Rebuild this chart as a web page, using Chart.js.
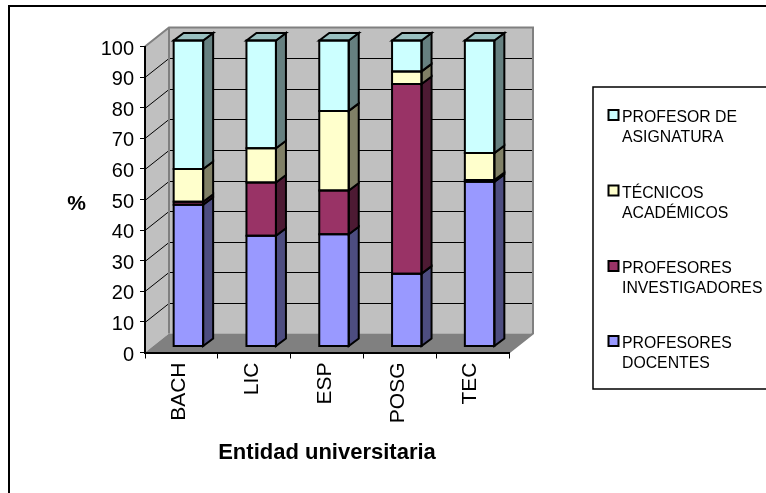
<!DOCTYPE html>
<html>
<head>
<meta charset="utf-8">
<style>
  html, body { margin: 0; padding: 0; background: #fff; }
  canvas { display: block; }
</style>
<script src="https://cdn.jsdelivr.net/npm/chart.js@4"></script>
</head>
<body>
<canvas id="chart" width="766" height="493"></canvas>
<script>
const categories = ['BACH', 'LIC', 'ESP', 'POSG', 'TEC']
const yTicks = [0, 10, 20, 30, 40, 50, 60, 70, 80, 90, 100]

const profesoresDocentes = [46.3, 36.2, 36.7, 23.8, 53.8]
const profesoresInvestigadores = [1, 17.4, 14.3, 62, 0.6]
const tecnicosAcademicos = [10.7, 11.2, 26, 4.1, 8.8]
const profesorAsignatura = [42, 35.2, 23, 10.1, 36.8]

const seriesStyles = [
  { label: 'PROFESORES DOCENTES', lines: ['PROFESORES', 'DOCENTES'], data: profesoresDocentes, color: '#9999FF', side: '#4D4D80' },
  { label: 'PROFESORES INVESTIGADORES', lines: ['PROFESORES', 'INVESTIGADORES'], data: profesoresInvestigadores, color: '#993366', side: '#4D1A33' },
  { label: 'TÉCNICOS ACADÉMICOS', lines: ['TÉCNICOS', 'ACADÉMICOS'], data: tecnicosAcademicos, color: '#FFFFCC', side: '#808066' },
  { label: 'PROFESOR DE ASIGNATURA', lines: ['PROFESOR DE', 'ASIGNATURA'], data: profesorAsignatura, color: '#CCFFFF', side: '#668080' },
]

const FONT = '"Liberation Sans", Arial, sans-serif'
const WALL = { dx: 24, dy: -19 }
const BAR_SHIFT = { x: 7, y: -6 }
const BAR_DEPTH = { dx: 10, dy: -7.5 }

const poly = (ctx, pts, fill, stroke, lw) => {
  ctx.beginPath()
  pts.forEach(([x, y], i) => (i ? ctx.lineTo(x, y) : ctx.moveTo(x, y)))
  ctx.closePath()
  if (fill) {
    ctx.fillStyle = fill
    ctx.fill()
  }
  if (stroke) {
    ctx.strokeStyle = stroke
    ctx.lineWidth = lw
    ctx.stroke()
  }
}

const scene3d = {
  id: 'scene3d',
  beforeDraw(chart) {
    const { ctx, scales } = chart
    const l = scales.x.left
    const r = scales.x.right
    const b = scales.y.bottom
    const t = scales.y.top
    const { dx, dy } = WALL
    ctx.save()
    // outer chart frame, open to the right and below
    ctx.strokeStyle = '#000'
    ctx.lineWidth = 2
    ctx.beginPath()
    ctx.moveTo(9, 493)
    ctx.lineTo(9, 6)
    ctx.lineTo(766, 6)
    ctx.stroke()

    poly(ctx, [[l, b], [l + dx, b + dy], [l + dx, t + dy], [l, t]], '#C0C0C0')
    poly(ctx, [[l + dx, b + dy], [r + dx, b + dy], [r + dx, t + dy], [l + dx, t + dy]], '#C0C0C0')
    poly(ctx, [[l, b], [l + dx, b + dy], [r + dx, b + dy], [r, b]], '#808080')

    ctx.strokeStyle = '#000'
    ctx.lineWidth = 1
    yTicks.slice(1, -1).forEach((v) => {
      const py = Math.round(scales.y.getPixelForValue(v)) + 0.5
      ctx.beginPath()
      ctx.moveTo(l, py)
      ctx.lineTo(l + dx, py + dy)
      ctx.lineTo(r + dx, py + dy)
      ctx.stroke()
    })

    ctx.strokeStyle = '#808080'
    ctx.lineWidth = 2
    ctx.beginPath()
    ctx.moveTo(l, t)
    ctx.lineTo(l + dx, t + dy)
    ctx.lineTo(r + dx, t + dy)
    ctx.lineTo(r + dx, b + dy)
    ctx.lineTo(r, b)
    ctx.moveTo(l + dx, t + dy)
    ctx.lineTo(l + dx, b + dy)
    ctx.stroke()
    ctx.restore()
  },
  beforeDatasetsDraw(chart) {
    chart.ctx.save()
    chart.ctx.translate(BAR_SHIFT.x, BAR_SHIFT.y)
  },
  afterDatasetsDraw(chart) {
    const { ctx } = chart
    const { dx, dy } = BAR_DEPTH
    ctx.lineJoin = 'miter'
    seriesStyles.forEach((s, di) => {
      chart.getDatasetMeta(di).data.forEach((bar) => {
        const x0 = bar.x - bar.width / 2
        const x1 = bar.x + bar.width / 2
        const top = bar.y
        const base = bar.base
        poly(ctx, [[x1, top], [x1 + dx, top + dy], [x1 + dx, base + dy], [x1, base]], s.side, '#000', 2)
        if (di === seriesStyles.length - 1) {
          poly(ctx, [[x0, top], [x0 + dx, top + dy], [x1 + dx, top + dy], [x1, top]], '#99BFBF', '#000', 2)
        }
        poly(ctx, [[x0, top], [x1, top], [x1, base], [x0, base]], null, '#000', 2)
      })
    })
    ctx.restore()
  },
  afterDraw(chart) {
    const { ctx } = chart
    ctx.save()
    ctx.fillStyle = '#000'
    ctx.textBaseline = 'middle'
    ctx.font = `bold 21px ${FONT}`
    ctx.textAlign = 'center'
    ctx.fillText('%', 76.5, 204)

    // legend box, runs off the right edge like the source
    ctx.strokeStyle = '#000'
    ctx.lineWidth = 1.5
    ctx.beginPath()
    ctx.moveTo(766, 87)
    ctx.lineTo(593, 87)
    ctx.lineTo(593, 389)
    ctx.lineTo(766, 389)
    ctx.stroke()

    ctx.textAlign = 'left'
    ctx.font = `15.8px ${FONT}`
    const rowY = [118, 193.5, 269, 344]
    seriesStyles.slice().reverse().forEach((s, i) => {
      const y = rowY[i]
      ctx.fillStyle = s.color
      ctx.fillRect(608.5, y - 8, 10, 10)
      ctx.strokeStyle = '#000'
      ctx.lineWidth = 2
      ctx.strokeRect(608.5, y - 8, 10, 10)
      ctx.fillStyle = '#000'
      s.lines.forEach((line, j) => ctx.fillText(line, 622, y + j * 19.7))
    })
    ctx.restore()
  },
}

new Chart(document.getElementById('chart'), {
  type: 'bar',
  data: {
    labels: categories,
    datasets: seriesStyles.map((s) => ({
      label: s.label,
      data: s.data,
      backgroundColor: s.color,
      borderWidth: 0,
      barPercentage: 0.405,
      categoryPercentage: 1,
    })),
  },
  options: {
    responsive: false,
    animation: false,
    events: [],
    layout: { padding: { top: 46.5, right: 257, left: 0, bottom: 0 } },
    plugins: { legend: { display: false }, title: { display: false }, tooltip: { enabled: false } },
    scales: {
      x: {
        stacked: true,
        afterFit(scale) { scale.height = 140.5 },
        border: { display: true, color: '#000', width: 2 },
        grid: { drawOnChartArea: false, drawTicks: true, tickLength: 6, color: '#000', offset: true },
        ticks: {
          color: '#000',
          font: { family: FONT, size: 21 },
          minRotation: 90,
          maxRotation: 90,
          padding: 4,
          labelOffset: -2,
        },
        title: {
          display: true,
          text: 'Entidad universitaria',
          color: '#000',
          font: { family: FONT, size: 22, weight: 'bold' },
          padding: { top: 0, bottom: 27 },
        },
      },
      y: {
        stacked: true,
        min: 0,
        max: 100,
        afterFit(scale) { scale.width = 145 },
        afterBuildTicks(scale) { scale.ticks = yTicks.map((value) => ({ value })) },
        border: { display: true, color: '#000', width: 2 },
        grid: { drawOnChartArea: false, drawTicks: true, tickLength: 5, color: '#000' },
        ticks: {
          color: '#000',
          font: { family: FONT, size: 20 },
          padding: 6,
          labelOffset: 2.5,
        },
      },
    },
  },
  plugins: [scene3d],
})
</script>
</body>
</html>
